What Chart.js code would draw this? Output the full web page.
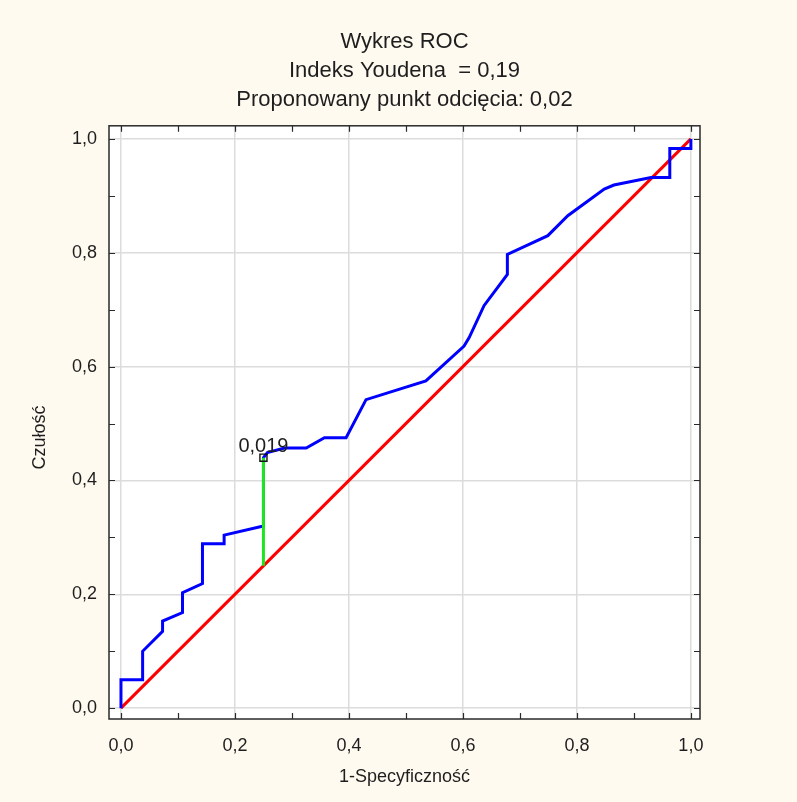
<!DOCTYPE html>
<html>
<head>
<meta charset="utf-8">
<title>Wykres ROC</title>
<script src="https://cdn.jsdelivr.net/npm/chart.js@4.4.1/dist/chart.umd.min.js"></script>
<style>
  html, body { margin: 0; padding: 0; background: #fffaf0; }
  #wrap { position: relative; width: 797px; height: 802px; }
</style>
</head>
<body>
<div id="wrap"><canvas id="roc" width="797" height="802"></canvas></div>
<script>
// ROC curve: 1-specificity (x) against sensitivity (y)
const fpr = [0, 0, 0.038, 0.038, 0.073, 0.073, 0.108, 0.108, 0.143, 0.143, 0.181, 0.181, 0.25, 0.25,
             0.257, 0.287, 0.325, 0.357, 0.395, 0.430, 0.535, 0.602, 0.611, 0.637, 0.678, 0.678,
             0.749, 0.784, 0.848, 0.865, 0.930, 0.963, 0.963, 1.0, 1.0];
const tpr = [0, 0.05, 0.05, 0.10, 0.135, 0.153, 0.168, 0.203, 0.219, 0.289, 0.289, 0.304, 0.320, 0.44,
             0.449, 0.457, 0.457, 0.475, 0.475, 0.542, 0.575, 0.636, 0.651, 0.707, 0.762, 0.797,
             0.830, 0.865, 0.912, 0.919, 0.932, 0.932, 0.983, 0.983, 1.0];

// reference diagonal
const diagX = [0, 1];
const diagY = [0, 1];

// optimal cut-off (Youden index = 0.44 - 0.25 = 0.19)
const cutX = [0.25];
const cutY = [0.44];
const cutLabel = ['0,019'];
const youdenX = [0.25, 0.25];
const youdenY = [0.25, 0.44];

// axis ticks (every 0.1, labelled every 0.2)
const tickValues = [0, 0.1, 0.2, 0.3, 0.4, 0.5, 0.6, 0.7, 0.8, 0.9, 1.0];
const tickLabels = ['0,0', '', '0,2', '', '0,4', '', '0,6', '', '0,8', '', '1,0'];

const titleLines = ['Wykres ROC', 'Indeks Youdena  = 0,19', 'Proponowany punkt odcięcia: 0,02'];
const xTitle = '1-Specyficzność';
const yTitle = 'Czułość';

const FONT = "'Liberation Sans', Arial, sans-serif";
const TEXT = '#1e1e1e';

const pts = (xs, ys) => xs.map((x, i) => ({ x, y: ys[i] }));

const isMajor = v => Math.abs(Math.round(v * 10) % 2) === 0;

// background, white plot area, frame with inward tick marks, annotations
const framePlugin = {
  id: 'frame',
  beforeDraw(chart) {
    const { ctx, chartArea: a } = chart;
    ctx.save();
    ctx.fillStyle = '#fffaf0';
    ctx.fillRect(0, 0, chart.width, chart.height);
    ctx.fillStyle = '#ffffff';
    ctx.fillRect(a.left, a.top, a.right - a.left, a.bottom - a.top);
    ctx.restore();
  },
  afterDatasetsDraw(chart) {
    const { ctx, chartArea: a, scales } = chart;
    ctx.save();
    ctx.strokeStyle = '#2a2a2a';
    ctx.lineWidth = 1.5;
    ctx.strokeRect(a.left, a.top, a.right - a.left, a.bottom - a.top);
    ctx.lineWidth = 1.2;
    const len = 6;
    ctx.beginPath();
    tickValues.forEach(v => {
      const px = Math.round(scales.x.getPixelForValue(v)) + 0.5;
      ctx.moveTo(px, a.bottom); ctx.lineTo(px, a.bottom - len);
      ctx.moveTo(px, a.top); ctx.lineTo(px, a.top + len);
      const py = Math.round(scales.y.getPixelForValue(v)) + 0.5;
      ctx.moveTo(a.left, py); ctx.lineTo(a.left + len, py);
      ctx.moveTo(a.right, py); ctx.lineTo(a.right - len, py);
    });
    ctx.stroke();

    // label of the cut-off point
    const ptx = scales.x.getPixelForValue(cutX[0]);
    const pty = scales.y.getPixelForValue(cutY[0]);
    ctx.fillStyle = TEXT;
    ctx.font = '20px ' + FONT;
    ctx.textAlign = 'center';
    ctx.textBaseline = 'alphabetic';
    ctx.fillText(cutLabel[0], ptx, pty - 6);

    // vertical axis title
    ctx.font = '18px ' + FONT;
    ctx.translate(40, (a.top + a.bottom) / 2 + 15);
    ctx.rotate(-Math.PI / 2);
    ctx.textBaseline = 'middle';
    ctx.fillText(yTitle, 0, 0);
    ctx.restore();
  }
};

const fixTicks = scale => { scale.ticks = tickValues.map(v => ({ value: v })); };

new Chart(document.getElementById('roc'), {
  type: 'scatter',
  data: {
    datasets: [
      {
        label: 'Youden',
        data: pts(youdenX, youdenY),
        showLine: true,
        borderColor: '#1ee61e',
        borderWidth: 3,
        pointRadius: 0,
        order: 1
      },
      {
        label: 'Cut-off',
        data: pts(cutX, cutY),
        showLine: false,
        pointStyle: 'rect',
        pointRadius: 5,
        borderColor: '#111111',
        borderWidth: 1.4,
        backgroundColor: 'rgba(255,255,255,0)',
        order: 0
      },
      {
        label: 'Diagonal',
        data: pts(diagX, diagY),
        showLine: true,
        borderColor: '#ff0000',
        borderWidth: 3,
        pointRadius: 0,
        order: 3
      },
      {
        label: 'ROC',
        data: pts(fpr, tpr),
        showLine: true,
        borderColor: '#0000ff',
        borderWidth: 3,
        pointRadius: 0,
        tension: 0,
        order: 2
      }
    ]
  },
  options: {
    responsive: false,
    animation: false,
    devicePixelRatio: 1,
    layout: { padding: { left: 0, right: 97, top: 0, bottom: 0 } },
    plugins: {
      legend: { display: false },
      tooltip: { enabled: false },
      title: {
        display: true,
        fullSize: false,
        text: titleLines,
        color: TEXT,
        font: { family: FONT, size: 22, weight: 'normal', lineHeight: 1.3 },
        padding: { top: 28, bottom: 12 }
      }
    },
    scales: {
      x: {
        type: 'linear',
        min: -0.021,
        max: 1.016,
        afterBuildTicks: fixTicks,
        afterFit: s => { s.height = 83; },
        grid: {
          drawTicks: false,
          color: c => (c.tick && isMajor(c.tick.value)) ? '#dcdcdc' : 'rgba(0,0,0,0)',
          lineWidth: 1.5
        },
        border: { display: false },
        ticks: {
          autoSkip: false,
          maxRotation: 0,
          padding: 16,
          color: TEXT,
          font: { family: FONT, size: 18 },
          callback: (v, i) => tickLabels[i]
        },
        title: {
          display: true,
          text: xTitle,
          color: TEXT,
          font: { family: FONT, size: 18 },
          padding: { top: 0, bottom: 14 }
        }
      },
      y: {
        type: 'linear',
        min: -0.019,
        max: 1.023,
        afterBuildTicks: fixTicks,
        afterFit: s => { s.width = 109; },
        grid: {
          drawTicks: false,
          color: c => (c.tick && isMajor(c.tick.value)) ? '#dcdcdc' : 'rgba(0,0,0,0)',
          lineWidth: 1.5
        },
        border: { display: false },
        ticks: {
          autoSkip: false,
          padding: 12,
          color: TEXT,
          font: { family: FONT, size: 18 },
          callback: (v, i) => tickLabels[i]
        },
        title: { display: false }
      }
    }
  },
  plugins: [framePlugin]
});
</script>
</body>
</html>
